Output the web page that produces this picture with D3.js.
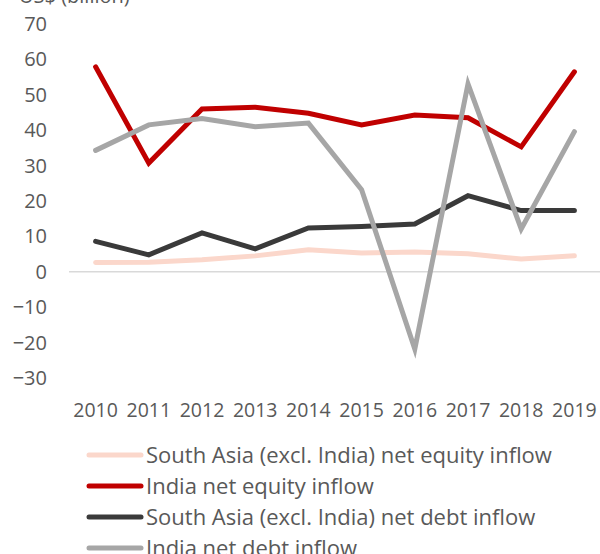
<!DOCTYPE html>
<html>
<head>
<meta charset="utf-8">
<script src="https://cdn.jsdelivr.net/npm/d3@7"></script>
<style>
  body { margin: 0; background: #fff; }
  svg { display: block; font-family: "Open Sans", sans-serif; }
</style>
</head>
<body>
<svg id="chart"></svg>
<script>
var years = ["2010", "2011", "2012", "2013", "2014", "2015", "2016", "2017", "2018", "2019"];
var yTicks = [-30, -20, -10, 0, 10, 20, 30, 40, 50, 60, 70];

var southAsiaEquity = [2.6, 2.7, 3.4, 4.5, 6.2, 5.3, 5.6, 5.1, 3.6, 4.5];
var indiaEquity = [57.9, 30.7, 46.0, 46.5, 44.8, 41.5, 44.3, 43.5, 35.3, 56.5];
var southAsiaDebt = [8.6, 4.8, 11.0, 6.5, 12.4, 12.8, 13.5, 21.5, 17.3, 17.3];
var indiaDebt = [34.3, 41.5, 43.3, 41.0, 42.0, 23.2, -21.8, 53.1, 12.1, 39.6];

var seriesNames = [
  "South Asia (excl. India) net equity inflow",
  "India net equity inflow",
  "South Asia (excl. India) net debt inflow",
  "India net debt inflow"
];
var seriesColors = ["#fbd7cb", "#c00000", "#3a3a3a", "#a6a6a6"];
var seriesValues = [southAsiaEquity, indiaEquity, southAsiaDebt, indiaDebt];

var width = 600, height = 554;
var svg = d3.select("#chart").attr("width", width).attr("height", height);

var x = d3.scaleBand().domain(years).range([69, 601]);
var y = d3.scaleLinear().domain([-30, 70]).range([378, 24]);

// y axis title (cut off at top, as in the original)
svg.append("text")
  .attr("x", 19)
  .attr("y", 3)
  .attr("fill", "#595959")
  .style("font-size", "20px")
  .text("US$ (billion)");

// y axis labels
var yAxis = svg.append("g")
  .attr("transform", "translate(47,0)")
  .call(d3.axisLeft(y).tickValues(yTicks).tickSize(0).tickPadding(0));
yAxis.select(".domain").remove();
yAxis.selectAll("text")
  .attr("fill", "#595959")
  .style("font-size", "20px")
  .style("font-family", "Open Sans, sans-serif");

// zero line
svg.append("line")
  .attr("x1", 69).attr("x2", 601)
  .attr("y1", y(0)).attr("y2", y(0))
  .attr("stroke", "#d9d9d9")
  .attr("stroke-width", 1.5);

// x axis labels
var xAxis = svg.append("g")
  .attr("transform", "translate(0,403)")
  .call(d3.axisBottom(x).tickSize(0).tickPadding(0));
xAxis.select(".domain").remove();
xAxis.selectAll("text")
  .attr("fill", "#595959")
  .style("font-size", "19.5px")
  .style("font-family", "Open Sans, sans-serif");

var line = d3.line()
  .x(function(d, i) { return x(years[i]) + x.bandwidth() / 2; })
  .y(function(d) { return y(d); });

svg.selectAll(".series")
  .data(seriesValues)
  .enter()
  .append("path")
    .attr("class", "series")
    .attr("d", line)
    .attr("fill", "none")
    .attr("stroke", function(d, i) { return seriesColors[i]; })
    .attr("stroke-width", 5)
    .attr("stroke-linejoin", "miter")
    .attr("stroke-linecap", "round");

// legend
var legend = svg.selectAll(".legend")
  .data(seriesNames)
  .enter()
  .append("g")
    .attr("class", "legend")
    .attr("transform", function(d, i) { return "translate(0," + (455 + i * 31) + ")"; });

legend.append("line")
  .attr("x1", 89).attr("x2", 141)
  .attr("stroke", function(d, i) { return seriesColors[i]; })
  .attr("stroke-width", 5)
  .attr("stroke-linecap", "round");

legend.append("text")
  .attr("x", 146)
  .attr("dy", "0.35em")
  .attr("fill", "#595959")
  .style("font-size", "22px")
  .text(function(d) { return d; });
</script>
</body>
</html>
